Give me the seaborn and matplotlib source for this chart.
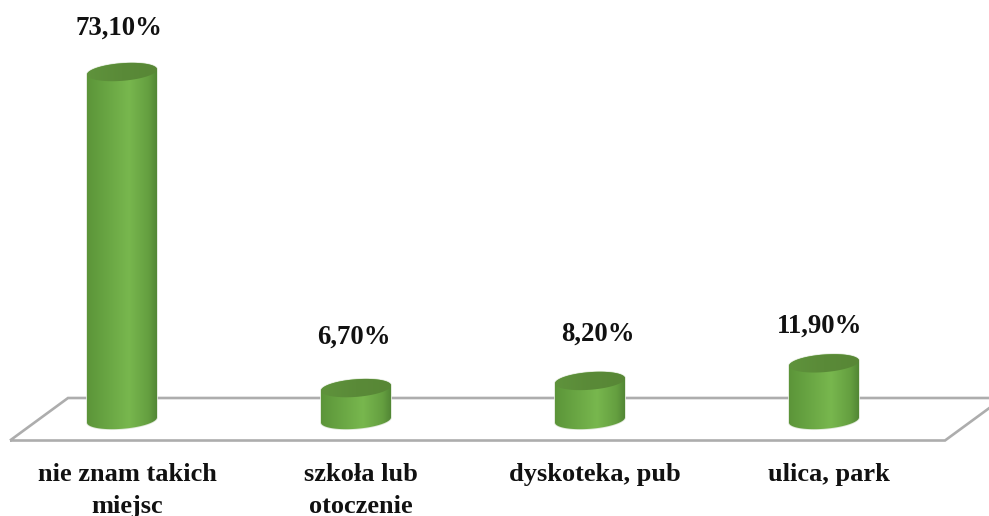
import numpy as np
import matplotlib
matplotlib.use("Agg")
import matplotlib.pyplot as plt
from matplotlib.colors import LinearSegmentedColormap
from matplotlib.patches import Polygon, PathPatch
from matplotlib.path import Path
from matplotlib.transforms import ScaledTranslation
import seaborn as sns

categories = ["nie znam takich\nmiejsc", "szkoła lub\notoczenie", "dyskoteka, pub", "ulica, park"]
values = [73.1, 6.7, 8.2, 11.9]
value_labels = ["73,10%", "6,70%", "8,20%", "11,90%"]

W, H = 989, 516
AX_BOTTOM_PX = 448
ZERO_PX = 420
PX_PER_UNIT = 4.76
FIRST_X_PX = 122
STEP_PX = 234
BAR_PX = 70
label_dx_px = [-3, -2, 8, -4]
label_y_px = [28, 337, 334, 326]

sns.set_theme(style="white")
plt.rcParams["font.family"] = ["Liberation Serif", "DejaVu Serif"]

fig = plt.figure(figsize=(W / 100, H / 100), dpi=100)
ax = fig.add_axes([0, (H - AX_BOTTOM_PX) / H, 1, AX_BOTTOM_PX / H])
sns.barplot(x=categories, y=values, color="#6aa544", width=BAR_PX / STEP_PX,
            saturation=1, ax=ax, zorder=2, legend=False)

xlim = ((0 - FIRST_X_PX) / STEP_PX, (W - FIRST_X_PX) / STEP_PX)
ylim = (-(AX_BOTTOM_PX - ZERO_PX) / PX_PER_UNIT, ZERO_PX / PX_PER_UNIT)


def fig_xy(px, py):
    return (px / W, 1 - py / H)


floor = Polygon([fig_xy(10, 440.5), fig_xy(68, 398), fig_xy(1003, 398), fig_xy(945, 440.5)],
                closed=True, fill=False, edgecolor="#adadad", lw=1.9,
                transform=fig.transFigure, zorder=1, clip_on=True)
ax.add_patch(floor)

side_cmap = LinearSegmentedColormap.from_list(
    "side", [(0, "#5c9439"), (0.12, "#619c3d"), (0.6, "#78b74e"), (0.88, "#659f40"), (1, "#528735")])
top_cmap = LinearSegmentedColormap.from_list("top", ["#5f933c", "#5a8a38", "#588736"])
grad = np.linspace(0, 1, 256).reshape(1, -1)

tilt_units = 2.6 / PX_PER_UNIT
minor_units = 8.8 / PX_PER_UNIT
t = np.linspace(0, 2 * np.pi, 121)

for bar, label, dx, ly in zip(list(ax.patches), value_labels, label_dx_px, label_y_px):
    x0, w, v = bar.get_x(), bar.get_width(), bar.get_height()
    cx = x0 + w / 2
    ex = cx + w / 2 * np.cos(t)
    bar.set_visible(False)

    lower = t[:61]
    bx = cx + w / 2 * np.cos(lower)
    by = tilt_units * np.cos(lower) - minor_units * np.sin(lower)
    upper_x = cx + w / 2 * np.cos(lower[::-1])
    upper_y = v + tilt_units * np.cos(lower[::-1]) + minor_units * np.sin(lower[::-1])
    body = np.column_stack([np.r_[bx, upper_x], np.r_[by, upper_y]])
    ax.add_patch(Polygon(body, closed=True, fc="none", ec="#dfe8d8", lw=1.2, zorder=2))
    im = ax.imshow(grad, extent=(x0, x0 + w, -3, v + 3), cmap=side_cmap, aspect="auto",
                   zorder=3, vmin=0, vmax=1)
    clip = PathPatch(Path(np.vstack([body, body[0]])), transform=ax.transData, fc="none", ec="none")
    ax.add_patch(clip)
    im.set_clip_path(clip)

    top = np.column_stack([ex, v + tilt_units * np.cos(t) + minor_units * np.sin(t)])
    im2 = ax.imshow(grad, extent=(x0, x0 + w, v - 3, v + 3), cmap=top_cmap, aspect="auto",
                    zorder=4, vmin=0, vmax=1)
    clip2 = PathPatch(Path(top), transform=ax.transData, fc="none", ec="none")
    ax.add_patch(clip2)
    im2.set_clip_path(clip2)

    ax.text(cx + dx / STEP_PX, (ZERO_PX - ly) / PX_PER_UNIT, label, ha="center", va="center",
            fontsize=19.3, fontweight="bold", color="#111111", zorder=5)

ax.set_xlim(*xlim)
ax.set_ylim(*ylim)
ax.set_yticks([])
ax.set_xticks(range(len(categories)))
ax.set_xticklabels(categories, fontsize=19, fontweight="bold", color="#111111",
                   linespacing=1.48, va="top")
ax.tick_params(axis="x", length=0, pad=10.7)
shift = ScaledTranslation(5 / 100, 0, fig.dpi_scale_trans)
for tick_label in ax.get_xticklabels():
    tick_label.set_transform(tick_label.get_transform() + shift)
ax.set_xlabel("")
ax.set_ylabel("")
sns.despine(ax=ax, left=True, bottom=True)
ax.patch.set_alpha(0)

fig.savefig("out.png", dpi=100, facecolor="white")
